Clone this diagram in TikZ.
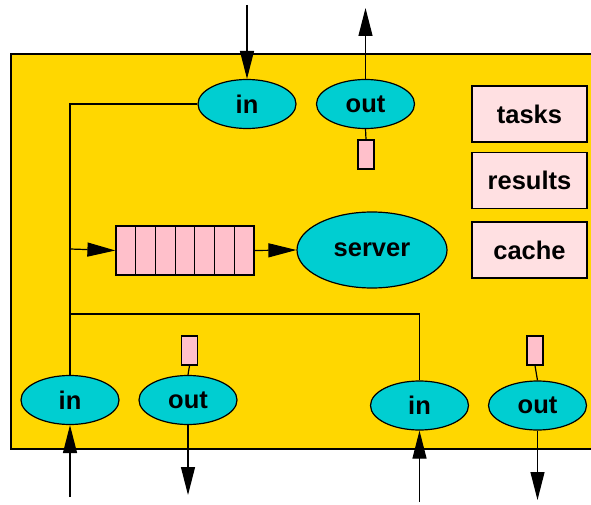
\documentclass[tikz,border=0pt]{standalone}
\usepackage{fontspec}
\setmainfont{Liberation Sans}
\usepackage{tikz}
\usetikzlibrary{shapes.geometric,arrows.meta,positioning,calc}
\usepackage{xcolor}
\definecolor{pgold}{RGB}{255,215,0}
\definecolor{pcyan}{RGB}{0,206,209}
\definecolor{ppink}{RGB}{255,192,203}
\definecolor{plight}{RGB}{255,224,226}

\begin{document}
\begin{tikzpicture}[
    x=1pt, y=-1pt,
    port/.style={ellipse, draw, fill=pcyan, line width=1.2pt, minimum width=98, minimum height=49,
                 inner sep=0pt, font=\fontsize{25.5}{28}\selectfont\bfseries},
    store/.style={rectangle, draw, fill=plight, line width=1.2pt, minimum width=115, minimum height=56,
                  inner sep=0pt, font=\fontsize{25.5}{28}\selectfont\bfseries},
    slot/.style={rectangle, draw, fill=ppink, line width=1.2pt, minimum width=16, minimum height=29, inner sep=0pt},
    cell/.style={rectangle, draw, fill=ppink, line width=1.2pt, minimum width=19.7, minimum height=49, inner sep=0pt},
    wire/.style={line width=1.2pt},
    flow/.style={-{Triangle[length=28pt,width=14pt]}, line width=1.2pt}
]
\useasboundingbox (0,0) rectangle (591,505);

% Host box (open on the right)
\fill[pgold] (11,54) rectangle (591,449);
\draw[line width=1.2pt] (591,54) -- (11,54) -- (11,449) -- (591,449);

% Ports at the top
\node[port] (inT) at (247,104) {in};
\node[port] (outT) at (365.5,104) {out};
\node[slot] (slotT) at (366,154.5) {};

% Stores
\node[store] (tasks) at (529.5,114) {tasks};
\node[store] (results) at (529.5,180.5) {results};
\node[store] (cache) at (529.5,250) {cache};

% Queue and server
\foreach \i in {1,...,7} {
  \node[cell] (q\i) at ({116+19.7*(\i-0.5)},250.5) {};
}
\node[port, minimum width=150, minimum height=76] (server) at (372,250) {server};

% Ports at the bottom
\node[port] (inBL) at (70,400) {in};
\node[port] (outBL) at (188,400) {out};
\node[slot] (slotBL) at (189.5,350.5) {};
\node[port] (inBR) at (419.5,405.5) {in};
\node[port] (outBR) at (537.5,405.5) {out};
\node[slot] (slotBR) at (535,350.5) {};

% Outer ends of the connectors
\coordinate (srcT) at (247,5);
\coordinate (dstT) at (365.5,8);
\coordinate (srcBL) at (70,497);
\coordinate (dstBL) at (188,495);
\coordinate (srcBR) at (419.5,502);
\coordinate (dstBR) at (537.5,500);
\coordinate (tap) at (70,249);
\coordinate (split) at (70,314);

% Arrows across the border
\draw[flow] (srcT) -- (inT);
\draw[flow] (outT) -- (dstT);
\draw[flow] (srcBL) -- (inBL);
\draw[flow] (outBL) -- (dstBL);
\draw[flow] (srcBR) -- (inBR);
\draw[flow] (outBR) -- (dstBR);

% Internal wiring
\draw[wire] (inT.west) -| (inBL.north);
\draw[wire] (split) -| (inBR.north);
\draw[flow] (tap) -- (q1.west);
\draw[flow] (q7.east) -- (server.west);
\draw[wire] (outT.south) -- (slotT.north);
\draw[wire] (outBL.north) -- (slotBL.south);
\draw[wire] (outBR.north) -- (slotBR.south);

\end{tikzpicture}
\end{document}
